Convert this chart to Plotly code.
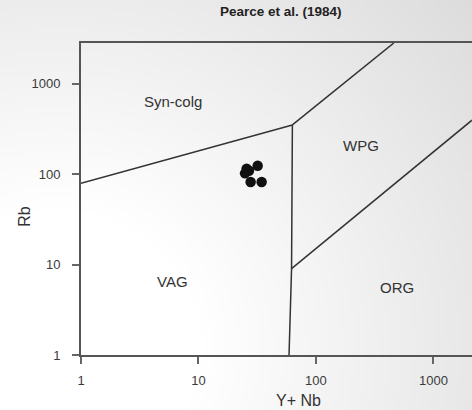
import base64, struct, zlib, math
import plotly.graph_objects as go

# ---- data ----
samples_ynb = [25.7, 26.9, 31.9, 27.8, 34.5, 24.9]
samples_rb = [115, 109, 124, 82, 82, 102]

# boundary lines (Y+Nb, Rb)
syncolg_vag_x = [1, 63]
syncolg_vag_y = [79, 350]
syncolg_wpg_x = [63, 460]
syncolg_wpg_y = [350, 2820]
vag_wpg_org_x = [63, 62, 59]
vag_wpg_org_y = [350, 9, 1]
wpg_org_x = [62, 2130]
wpg_org_y = [9, 395]

region_labels = ["Syn-colg", "WPG", "VAG", "ORG"]
region_x = [6.07, 241.5, 6.03, 486.0]
region_y = [630, 205.6, 6.46, 5.55]

tick_vals = [1, 10, 100, 1000]
tick_text = ["1", "10", "100", "1000"]

W, H = 472, 410
L, R, T, B = 81, 0, 43, 55
PW, PH = W - L - R, H - T - B

# ---- gradient background as PNG ----
def make_png(w, h):
    rows = b""
    for j in range(h):
        row = bytearray([0])
        for i in range(w):
            u, v = i / (w - 1), j / (h - 1)
            d = math.hypot(u - 0.12, (v - 0.85) * 0.9)
            val = 255 - 34 * max(0.0, d - 0.3) / 0.85
            row.append(max(0, min(255, int(round(val)))))
        rows += bytes(row)
    def chunk(tag, data):
        c = struct.pack(">I", len(data)) + tag + data
        return c + struct.pack(">I", zlib.crc32(tag + data) & 0xffffffff)
    png = b"\x89PNG\r\n\x1a\n"
    png += chunk(b"IHDR", struct.pack(">IIBBBBB", w, h, 8, 0, 0, 0, 0))
    png += chunk(b"IDAT", zlib.compress(rows))
    png += chunk(b"IEND", b"")
    return "data:image/png;base64," + base64.b64encode(png).decode()

bg = make_png(94, 82)

fig = go.Figure()
line_style = dict(color="#333333", width=1.5)
for xs, ys in [(syncolg_vag_x, syncolg_vag_y), (syncolg_wpg_x, syncolg_wpg_y),
               (vag_wpg_org_x, vag_wpg_org_y), (wpg_org_x, wpg_org_y)]:
    fig.add_trace(go.Scatter(x=xs, y=ys, mode="lines", line=line_style,
                             hoverinfo="skip", showlegend=False))

fig.add_trace(go.Scatter(x=samples_ynb, y=samples_rb, mode="markers",
                         marker=dict(size=10.5, color="#111111"),
                         showlegend=False))

for lab, x, y in zip(region_labels, region_x, region_y):
    fig.add_annotation(x=math.log10(x), y=math.log10(y), text=lab, showarrow=False,
                       font=dict(family="Arial", size=15, color="#333333"),
                       xanchor="center", yanchor="middle")

# title
fig.add_annotation(xref="paper", yref="paper", x=(280.5 - L) / PW, y=(355 - 11.7) / PH,
                   text="Pearce et al. (1984)", showarrow=False,
                   font=dict(family="Arial", size=13.5, color="#222222", weight="bold"),
                   xanchor="center", yanchor="middle")
# axis titles
fig.add_annotation(xref="paper", yref="paper", x=(298 - L) / PW, y=(355 - 400) / PH,
                   text="Y+ Nb", showarrow=False,
                   font=dict(family="Arial", size=16, color="#333333"),
                   xanchor="center", yanchor="middle")
fig.add_annotation(xref="paper", yref="paper", x=(25 - L) / PW, y=(355 - 216.7) / PH,
                   text="Rb", showarrow=False, textangle=-90,
                   font=dict(family="Arial", size=16, color="#333333"),
                   xanchor="center", yanchor="middle")

axis_common = dict(type="log", showgrid=False, zeroline=False, showline=True,
                   linecolor="#555555", linewidth=2, ticks="outside", ticklen=7,
                   tickcolor="#666666", tickwidth=1.5,
                   tickvals=tick_vals, ticktext=tick_text,
                   tickfont=dict(family="Arial", size=13, color="#3a3a3a"))

fig.update_layout(
    width=W, height=H,
    margin=dict(l=L, r=R, t=T, b=B, autoexpand=False),
    paper_bgcolor="white", plot_bgcolor="rgba(0,0,0,0)",
    xaxis=dict(range=[0, math.log10(2130)], mirror=True, ticklabelstandoff=5, **axis_common),
    yaxis=dict(range=[0, 3.45], ticklabelstandoff=9, **axis_common),
    images=[dict(source=bg, xref="paper", yref="paper", x=-L / PW, y=1 + T / PH,
                 sizex=W / PW, sizey=H / PH, sizing="stretch", layer="below",
                 xanchor="left", yanchor="top")],
)

fig.write_html("out.html")
